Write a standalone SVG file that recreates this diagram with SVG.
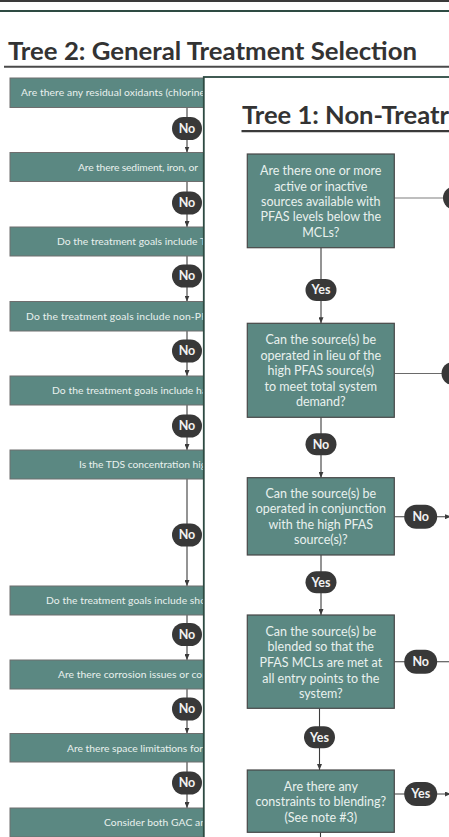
<svg xmlns="http://www.w3.org/2000/svg" width="449" height="837" viewBox="0 0 449 837">
  <style>
    .title { font-family: Lato, "Open Sans", sans-serif; font-weight: 700; font-size: 25px; fill: #333333; }
    .box { fill: #5b8882; stroke: #6e6e6e; stroke-width: 1; }
    .box1 { fill: #5b8882; stroke: #474747; stroke-width: 1.2; }
    .t2 { font-family: Lato, "Open Sans", sans-serif; font-size: 10.3px; fill: #e9f1ee; }
    .t1 { font-family: Lato, "Open Sans", sans-serif; font-size: 12.5px; fill: #e9f1ee; text-anchor: middle; }
    .pill { fill: #383838; }
    .pt { font-family: Lato, "Open Sans", sans-serif; font-weight: 700; font-size: 12.5px; fill: #f2f2f2; text-anchor: middle; }
    .ln { stroke: #3c3c3c; stroke-width: 1.1; fill: none; }
    .lnl { stroke: #a8a8a8; stroke-width: 1.3; fill: none; }
    .lnm { stroke: #6a6a6a; stroke-width: 1.2; fill: none; }
  </style>
  <defs>
    <marker id="arr" viewBox="0 0 6 5" refX="6" refY="2.5" markerWidth="6" markerHeight="5" markerUnits="userSpaceOnUse" orient="auto">
      <path d="M0,0 L6,2.5 L0,5 Z" fill="#3c3c3c"/>
    </marker>
  </defs>

  <rect width="449" height="837" fill="#ffffff"/>

  <!-- page rules -->
  <line x1="0" y1="1" x2="449" y2="1" stroke="#3a3a3a" stroke-width="2"/>
  <line x1="0" y1="11" x2="449" y2="11" stroke="#2e4b43" stroke-width="2"/>

  <!-- Tree 2 heading -->
  <text class="title" x="8" y="60" textLength="409" lengthAdjust="spacingAndGlyphs">Tree 2: General Treatment Selection</text>
  <line x1="4" y1="66.8" x2="449" y2="66.8" stroke="#4a4a4a" stroke-width="2"/>

  <!-- Tree 2 connectors -->
  <g id="tree2-connectors">
    <line class="ln" x1="187" y1="107.5" x2="187" y2="152.5" marker-end="url(#arr)"/>
    <line class="ln" x1="187" y1="181.5" x2="187" y2="227" marker-end="url(#arr)"/>
    <line class="ln" x1="187" y1="256" x2="187" y2="301.5" marker-end="url(#arr)"/>
    <line class="ln" x1="187" y1="331" x2="187" y2="376" marker-end="url(#arr)"/>
    <line class="ln" x1="187" y1="405" x2="187" y2="450" marker-end="url(#arr)"/>
    <line class="ln" x1="187" y1="479" x2="187" y2="586" marker-end="url(#arr)"/>
    <line class="ln" x1="187" y1="615" x2="187" y2="660" marker-end="url(#arr)"/>
    <line class="ln" x1="187" y1="689" x2="187" y2="733.5" marker-end="url(#arr)"/>
    <line class="ln" x1="187" y1="762" x2="187" y2="808" marker-end="url(#arr)"/>
    <g id="t2-no1"><rect class="pill" x="172" y="117" width="30" height="23" rx="11.5"/><text class="pt" x="187" y="132.6">No</text></g>
    <g id="t2-no2"><rect class="pill" x="172" y="191.5" width="30" height="23" rx="11.5"/><text class="pt" x="187" y="207.1">No</text></g>
    <g id="t2-no3"><rect class="pill" x="172" y="264.5" width="30" height="23" rx="11.5"/><text class="pt" x="187" y="280.1">No</text></g>
    <g id="t2-no4"><rect class="pill" x="172" y="339.5" width="30" height="23" rx="11.5"/><text class="pt" x="187" y="355.1">No</text></g>
    <g id="t2-no5"><rect class="pill" x="172" y="414.5" width="30" height="23" rx="11.5"/><text class="pt" x="187" y="430.1">No</text></g>
    <g id="t2-no6"><rect class="pill" x="172" y="523.5" width="30" height="23" rx="11.5"/><text class="pt" x="187" y="539.1">No</text></g>
    <g id="t2-no7"><rect class="pill" x="172" y="623" width="30" height="23" rx="11.5"/><text class="pt" x="187" y="638.6">No</text></g>
    <g id="t2-no8"><rect class="pill" x="172" y="697.5" width="30" height="23" rx="11.5"/><text class="pt" x="187" y="713.1">No</text></g>
    <g id="t2-no9"><rect class="pill" x="172" y="771.5" width="30" height="23" rx="11.5"/><text class="pt" x="187" y="787.1">No</text></g>
  </g>

  <!-- Tree 2 nodes -->
  <g id="t2-oxidants"><rect class="box" x="10" y="78" width="210" height="29.5"/><text class="t2" x="21" y="96.3" textLength="184">Are there any residual oxidants (chlorine</text></g>
  <g id="t2-sediment"><rect class="box" x="10" y="152.5" width="210" height="29"/><text class="t2" x="78" y="170.5" textLength="120">Are there sediment, iron, or</text></g>
  <g id="t2-goals-t"><rect class="box" x="10" y="227" width="210" height="29"/><text class="t2" x="57" y="245" textLength="149">Do the treatment goals include T</text></g>
  <g id="t2-goals-nonpfas"><rect class="box" x="10" y="301.5" width="210" height="29.5"/><text class="t2" x="26" y="319.8" textLength="181">Do the treatment goals include non-PF</text></g>
  <g id="t2-goals-ha"><rect class="box" x="10" y="376" width="210" height="29"/><text class="t2" x="52" y="394" textLength="155">Do the treatment goals include ha</text></g>
  <g id="t2-tds"><rect class="box" x="10" y="450" width="210" height="29"/><text class="t2" x="79" y="468" textLength="127">Is the TDS concentration hig</text></g>
  <g id="t2-goals-sho"><rect class="box" x="10" y="586" width="210" height="29"/><text class="t2" x="46" y="604" textLength="160">Do the treatment goals include sho</text></g>
  <g id="t2-corrosion"><rect class="box" x="10" y="660" width="210" height="29"/><text class="t2" x="58" y="678" textLength="148">Are there corrosion issues or cor</text></g>
  <g id="t2-space"><rect class="box" x="10" y="733.5" width="210" height="28.5"/><text class="t2" x="67" y="751.5" textLength="136">Are there space limitations for</text></g>
  <g id="t2-consider"><rect class="box" x="10" y="808" width="210" height="29"/><text class="t2" x="104" y="826" textLength="102">Consider both GAC an</text></g>

  <!-- Tree 1 panel laid over Tree 2 -->
  <rect x="203.8" y="77" width="260" height="780" fill="#ffffff" stroke="#2d4a42" stroke-width="1.8"/>

  <text class="title" x="242" y="123.5" textLength="207" lengthAdjust="spacingAndGlyphs">Tree 1: Non-Treatr</text>
  <line x1="241.5" y1="131.2" x2="449" y2="131.2" stroke="#3a3a3a" stroke-width="2.2"/>

  <!-- Tree 1 connectors -->
  <g id="tree1-connectors">
    <line class="lnl" x1="394.5" y1="198" x2="446" y2="198"/>
    <line class="lnm" x1="394.5" y1="373.5" x2="446" y2="373.5"/>
    <line class="ln" x1="394.5" y1="516.7" x2="451" y2="516.7" marker-end="url(#arr)"/>
    <line class="ln" x1="394.5" y1="661.7" x2="449" y2="661.7"/>
    <line class="ln" x1="394.5" y1="794" x2="451" y2="794" marker-end="url(#arr)"/>

    <line class="ln" x1="321" y1="247.7" x2="321" y2="323.3" marker-end="url(#arr)"/>
    <line class="ln" x1="321" y1="417.3" x2="321" y2="477.7" marker-end="url(#arr)"/>
    <line class="ln" x1="321" y1="555" x2="321" y2="615" marker-end="url(#arr)"/>
    <line class="ln" x1="319.5" y1="708.3" x2="319.5" y2="770" marker-end="url(#arr)"/>
    <line class="ln" x1="320.5" y1="832.3" x2="320.5" y2="840"/>

    <g id="t1-right-a"><rect class="pill" x="443" y="186.5" width="32" height="23" rx="11.5"/></g>
    <g id="t1-right-b"><rect class="pill" x="441.5" y="362" width="32" height="23" rx="11.5"/></g>
    <g id="t1-yes1"><rect class="pill" x="305.5" y="279" width="31" height="22" rx="11"/><text class="pt" x="321" y="294.4">Yes</text></g>
    <g id="t1-no1"><rect class="pill" x="305.5" y="433.3" width="31" height="22" rx="11"/><text class="pt" x="321" y="448.7">No</text></g>
    <g id="t1-no-c"><rect class="pill" x="404.2" y="504.7" width="33" height="24" rx="12"/><text class="pt" x="420.7" y="521.1">No</text></g>
    <g id="t1-yes2"><rect class="pill" x="305.5" y="571.3" width="31" height="22" rx="11"/><text class="pt" x="321" y="586.7">Yes</text></g>
    <g id="t1-no-d"><rect class="pill" x="404.2" y="649.7" width="33" height="24" rx="12"/><text class="pt" x="420.7" y="666.1">No</text></g>
    <g id="t1-yes3"><rect class="pill" x="304" y="726.3" width="31" height="22" rx="11"/><text class="pt" x="319.5" y="741.7">Yes</text></g>
    <g id="t1-yes-e"><rect class="pill" x="404.2" y="782" width="33" height="24" rx="12"/><text class="pt" x="420.7" y="798.4">Yes</text></g>
  </g>

  <!-- Tree 1 nodes -->
  <g id="t1-sources">
    <rect class="box1" x="247.3" y="154" width="147" height="93.7"/>
    <text class="t1" x="320.8" y="175.4">Are there one or more</text>
    <text class="t1" x="320.8" y="190.7">active or inactive</text>
    <text class="t1" x="320.8" y="206">sources available with</text>
    <text class="t1" x="320.8" y="221.3">PFAS levels below the</text>
    <text class="t1" x="320.8" y="236.6">MCLs?</text>
  </g>
  <g id="t1-in-lieu">
    <rect class="box1" x="247.3" y="323.3" width="147" height="94"/>
    <text class="t1" x="320.8" y="344">Can the source(s) be</text>
    <text class="t1" x="320.8" y="359.5">operated in lieu of the</text>
    <text class="t1" x="320.8" y="375">high PFAS source(s)</text>
    <text class="t1" x="320.8" y="390.5">to meet total system</text>
    <text class="t1" x="320.8" y="406">demand?</text>
  </g>
  <g id="t1-conjunction">
    <rect class="box1" x="247.3" y="477.7" width="147" height="77.3"/>
    <text class="t1" x="320.8" y="497.7">Can the source(s) be</text>
    <text class="t1" x="320.8" y="513.3">operated in conjunction</text>
    <text class="t1" x="320.8" y="528.8">with the high PFAS</text>
    <text class="t1" x="320.8" y="544.3">source(s)?</text>
  </g>
  <g id="t1-blended">
    <rect class="box1" x="247.3" y="615" width="147" height="93.3"/>
    <text class="t1" x="320.8" y="635.6">Can the source(s) be</text>
    <text class="t1" x="320.8" y="651">blended so that the</text>
    <text class="t1" x="320.8" y="666.7">PFAS MCLs are met at</text>
    <text class="t1" x="320.8" y="682.5">all entry points to the</text>
    <text class="t1" x="320.8" y="698">system?</text>
  </g>
  <g id="t1-constraints">
    <rect class="box1" x="247.3" y="770" width="147" height="62.3"/>
    <text class="t1" x="320.8" y="790.7">Are there any</text>
    <text class="t1" x="320.8" y="806.1">constraints to blending?</text>
    <text class="t1" x="320.8" y="821.6">(See note #3)</text>
  </g>
</svg>
